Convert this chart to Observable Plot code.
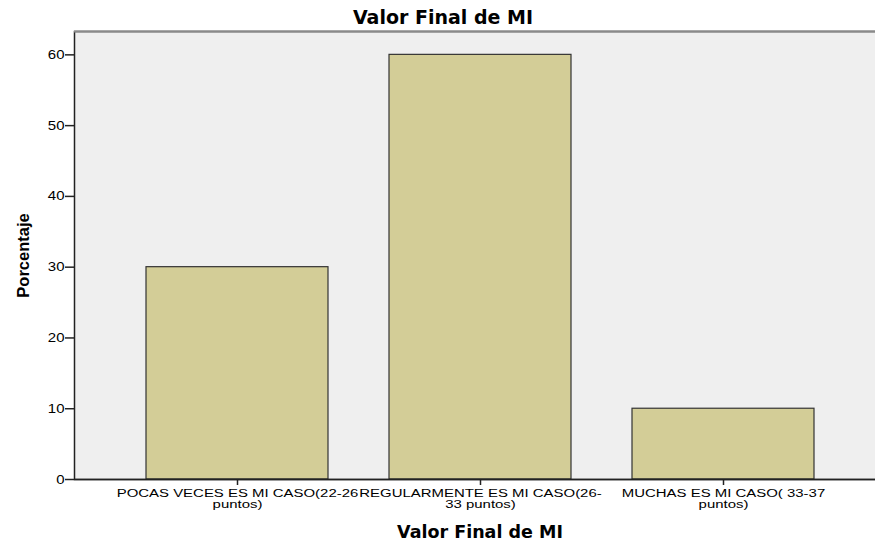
<!DOCTYPE html>
<html>
<head>
<meta charset="utf-8">
<script src="https://cdn.jsdelivr.net/npm/d3@7"></script>
<script src="https://cdn.jsdelivr.net/npm/@observablehq/plot@0.6"></script>
<style>
  html, body { margin: 0; padding: 0; background: #fff; overflow: hidden; }
  #chart svg { display: block; }
</style>
</head>
<body>
<div id="chart"></div>
<script>
const categories = [
  "POCAS VECES ES MI CASO(22-26 puntos)",
  "REGULARMENTE ES MI CASO(26-33 puntos)",
  "MUCHAS ES MI CASO( 33-37 puntos)"
];
const tickLabels = [
  "POCAS VECES ES MI CASO(22-26\npuntos)",
  "REGULARMENTE ES MI CASO(26-\n33 puntos)",
  "MUCHAS ES MI CASO( 33-37\npuntos)"
];
const percentages = [30, 60, 10];
const yTicks = [0, 10, 20, 30, 40, 50, 60];
const yMax = 63.3;
const chartTitle = "Valor Final de MI";
const xTitle = "Valor Final de MI";
const yTitle = "Porcentaje";

const data = categories.map((c, i) => ({cat: c, value: percentages[i]}));
const labelOf = new Map(categories.map((c, i) => [c, tickLabels[i]]));

const chart = Plot.plot({
  width: 875,
  height: 546,
  marginLeft: 74,
  marginTop: 31,
  marginRight: 0,
  marginBottom: 67,
  style: {fontFamily: "'Liberation Sans', Arial, sans-serif", fontSize: "12px", color: "#000", background: "#fff", overflow: "hidden"},
  x: {domain: categories, range: [74, 886], paddingInner: 0.25, paddingOuter: 0.294},
  y: {domain: [0, yMax]},
  marks: [
    Plot.frame({fill: "#efefef", stroke: null}),
    Plot.barY(data, {x: "cat", y: "value", fill: "#d3cd97", stroke: "#333", strokeWidth: 1.2}),
    Plot.frame({stroke: "#222", strokeWidth: 1.5, insetRight: -8}),
    Plot.ruleY([yMax], {stroke: "#8a8a8a", strokeWidth: 2}),
    Plot.ruleY([0], {stroke: "#222", strokeWidth: 1.5}),
    Plot.axisY({ticks: yTicks, tickSize: 9, tickPadding: 1, tickFormat: d => d, label: null, fontSize: 12.5, stroke: "#222", strokeWidth: 1.5}),
    Plot.axisX({tickSize: 6, tickPadding: 4, tickFormat: d => labelOf.get(d), label: null, fontSize: 11.5, lineHeight: 0.95, stroke: "#222", strokeWidth: 1.5}),
    Plot.text([chartTitle], {frameAnchor: "top", dx: -32, dy: -21, text: d => d, fontSize: 19, fontWeight: "bold", fill: "#000", fontFamily: "'DejaVu Sans', sans-serif"}),
    Plot.text([xTitle], {frameAnchor: "bottom", dx: 5, dy: 58, text: d => d, fontSize: 17.5, fontWeight: "bold", fill: "#000", fontFamily: "'DejaVu Sans', sans-serif"}),
    Plot.text([yTitle], {frameAnchor: "left", textAnchor: "middle", dx: -51, rotate: -90, text: d => d, fontSize: 16.5, fontWeight: "bold", fill: "#000"})
  ]
});
// widen the tick label glyphs horizontally, as in the reference
function stretch(sel, k) {
  d3.select(chart).selectAll(sel).attr("transform", function() {
    return (this.getAttribute("transform") || "") + ` scale(${k},1)`;
  });
}
stretch('g[aria-label="x-axis tick label"] text', 1.3);
stretch('g[aria-label="y-axis tick label"] text', 1.2);
document.getElementById("chart").appendChild(chart);
</script>
</body>
</html>
